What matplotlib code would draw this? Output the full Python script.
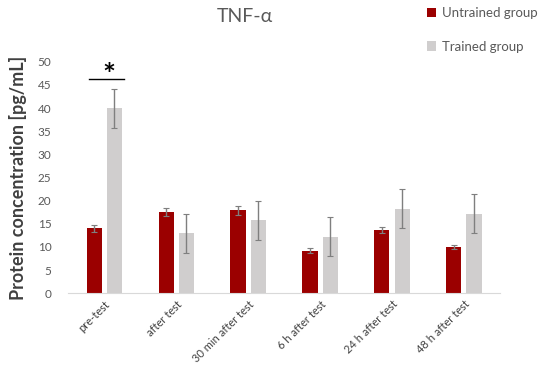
import matplotlib
matplotlib.use('Agg')
import matplotlib.pyplot as plt
import numpy as np

plt.rcParams['font.family'] = ['Lato', 'DejaVu Sans']

# data
categories = ['pre-test', 'after test', '30 min after test', '6 h after test',
              '24 h after test', '48 h after test']
untrained = [14.0, 17.5, 17.9, 9.2, 13.6, 10.0]
untrained_err = [0.7, 0.9, 0.9, 0.5, 0.6, 0.5]
trained = [40.0, 12.9, 15.8, 12.2, 18.3, 17.2]
trained_err = [4.2, 4.2, 4.2, 4.2, 4.2, 4.2]

fig = plt.figure(figsize=(5.5, 3.66), dpi=100)
ax = fig.add_axes([0.124, 0.199, 0.785, 0.632])

x = np.arange(len(categories))
w = 0.21
err_kw = dict(ecolor='#7f7f7f', elinewidth=1, capsize=2, capthick=0.8)
ax.bar(x - 0.14, untrained, w, color='#9b0000', yerr=untrained_err,
       error_kw=err_kw, label='Untrained group')
ax.bar(x + 0.14, trained, w, color='#d0cece', yerr=trained_err,
       error_kw=err_kw, label='Trained group')

# significance mark
ax.plot([-0.21, 0.28], [46.2, 46.2], color='black', lw=1)
ax.text(0.07, 47.0, '*', ha='center', va='center', fontsize=22, fontweight='bold')

ax.set_xlim(-0.5, len(categories) - 0.5)
ax.set_ylim(0, 50)
ax.set_yticks(range(0, 51, 5))
ax.set_xticks(x)
ax.set_xticklabels(categories, rotation=45, ha='right', rotation_mode='anchor',
                   fontsize=8, color='#404040')
ax.tick_params(axis='y', labelsize=8.5, labelcolor='#595959', length=0, pad=12)
ax.tick_params(axis='x', length=0, pad=4)
for s in ['top', 'right', 'left']:
    ax.spines[s].set_visible(False)
ax.spines['bottom'].set_color('#d9d9d9')

ax.set_ylabel('Protein concentration [pg/mL]', fontsize=13, fontweight='bold',
              color='#404040', labelpad=8)
fig.text(0.445, 0.955, 'TNF-α', ha='center', va='center', fontsize=14, color='#595959')

fig.legend(loc='upper left', bbox_to_anchor=(0.755, 1.012), frameon=False,
           fontsize=9.5, labelcolor='#595959', handlelength=0.7, handleheight=0.7,
           labelspacing=1.6, handletextpad=0.4)

fig.savefig('out.png', dpi=100)
